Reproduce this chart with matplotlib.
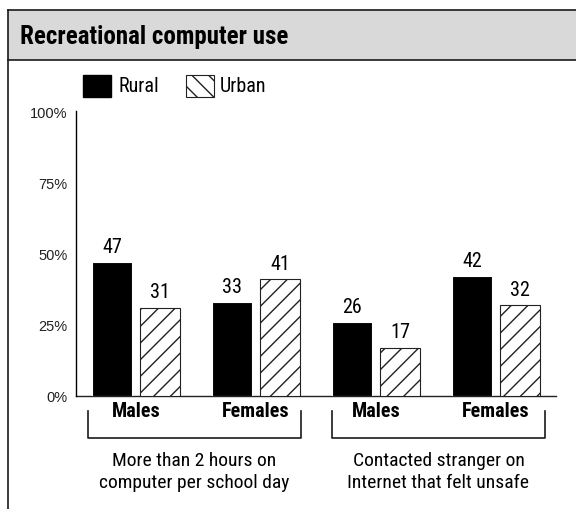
import matplotlib.pyplot as plt
import matplotlib.transforms as mtransforms
from matplotlib.patches import Rectangle
import numpy as np

plt.rcParams['font.family'] = ['Roboto Condensed', 'DejaVu Sans']
plt.rcParams['hatch.linewidth'] = 1.0

title = 'Recreational computer use'
categories = ['Males', 'Females', 'Males', 'Females']
rural = [47, 33, 26, 42]
urban = [31, 41, 17, 32]
groups = ['More than 2 hours on\ncomputer per school day',
          'Contacted stranger on\nInternet that felt unsafe']
yticks = [0, 25, 50, 75, 100]

fig = plt.figure(figsize=(5.76, 5.1), dpi=100)

# pixel -> figure fraction helpers
W, H = 576, 510
def fx(px):
    return px / W
def fy(py):
    return 1 - py / H

# header band
fig.patches.append(Rectangle((fx(8), fy(61)), 1 - fx(8), fy(11) - fy(61),
                             transform=fig.transFigure, facecolor='#d9d9da',
                             edgecolor='none', zorder=0))
for xs, ys in [([8, 576], [11, 11]), ([8, 576], [61, 61]), ([8, 8], [11, 510])]:
    fig.add_artist(plt.Line2D([fx(x) for x in xs], [fy(y) for y in ys],
                              transform=fig.transFigure, color='#1a1a1a', lw=1.2))
fig.text(fx(20), fy(37), title, fontsize=18, fontweight='bold',
         va='center', ha='left')

ax = fig.add_axes([fx(76), fy(397), fx(556) - fx(76), fy(112) - fy(397)])
x = np.arange(len(categories))
w = 0.34
b1 = ax.bar(x - 0.2, rural, w, color='black', edgecolor='white', lw=0.8, zorder=3)
b2 = ax.bar(x + 0.2, urban, w, color='white', edgecolor='#222222', hatch='//',
            lw=0.8, zorder=3)
for rect, v in zip(list(b1) + list(b2), rural + urban):
    ax.text(rect.get_x() + rect.get_width() / 2, v + 2.2, str(v),
            ha='center', va='bottom', fontsize=14.5)

ax.set_xlim(-0.5, 3.5)
ax.set_ylim(0, 100)
ax.set_yticks(yticks)
ax.set_yticklabels([f'{t}%' for t in yticks], family='Liberation Sans',
                   fontsize=10.5, color='#222222')
ax.tick_params(axis='y', length=0, pad=6)
ax.set_xticks([])
for s in ['top', 'right', 'bottom']:
    ax.spines[s].set_visible(False)
ax.spines['left'].set_linewidth(1.0)
ax.axhline(0, color='#222222', lw=1.0, zorder=1, clip_on=False)

trans = mtransforms.blended_transform_factory(ax.transData, ax.transAxes)
for xi, c in zip(x, categories):
    ax.text(xi, -0.05, c, transform=trans, ha='center', va='center',
            fontsize=14.5, fontweight='bold')

# brackets under each pair of categories
for (x0, x1), label in zip([(-0.4, 1.375), (1.633, 3.408)], groups):
    ax.plot([x0, x0, x1, x1], [-0.052, -0.147, -0.147, -0.052], transform=trans,
            color='#1a1a1a', lw=1.2, clip_on=False)
    ax.text((x0 + x1) / 2, -0.264, label, transform=trans, ha='center',
            va='center', fontsize=14, linespacing=1.25)

# legend
fig.patches.append(Rectangle((fx(83), fy(98)), fx(28), fy(76) - fy(98),
                             transform=fig.transFigure, facecolor='black',
                             edgecolor='black'))
fig.text(fx(119), fy(87), 'Rural', fontsize=14.5, va='center')
fig.patches.append(Rectangle((fx(186), fy(98)), fx(28), fy(76) - fy(98),
                             transform=fig.transFigure, facecolor='white',
                             edgecolor='#222222', hatch='\\\\', lw=0.8))
fig.text(fx(220), fy(87), 'Urban', fontsize=14.5, va='center')

fig.savefig('out.png', dpi=100)
